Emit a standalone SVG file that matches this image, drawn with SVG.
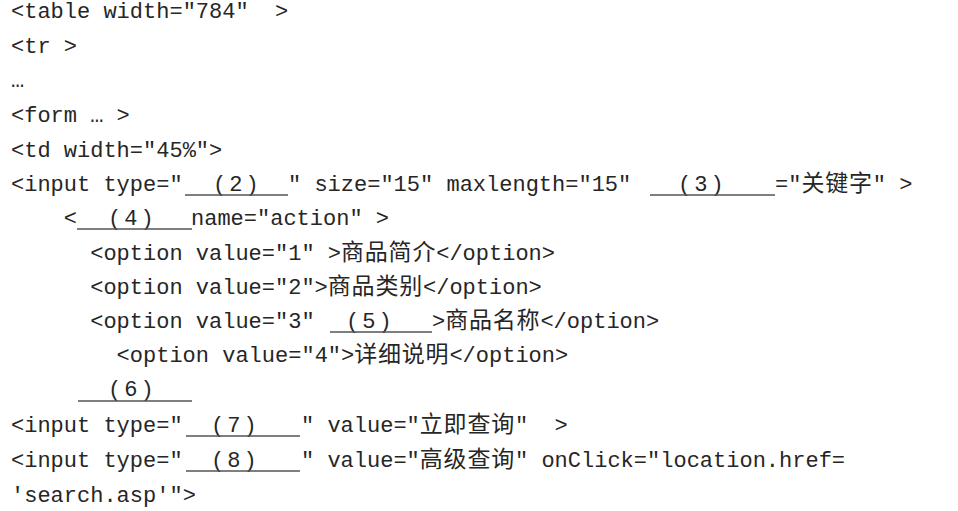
<svg xmlns="http://www.w3.org/2000/svg" width="958" height="511" viewBox="0 0 958 511">
<style>
text{font-family:"Liberation Mono","Courier New","Noto Sans CJK SC",monospace;font-size:22px;fill:#262626;white-space:pre}
.c{font-family:"Noto Sans CJK SC","Noto Sans CJK JP",sans-serif;font-size:23px;letter-spacing:0.8px}
.n{letter-spacing:3px}
.u{stroke:#555;stroke-width:1.4;fill:none}
</style>
<rect width="958" height="511" fill="#ffffff"/>
<g id="code" xml:space="preserve">
<text x="11" y="18">&lt;table width="784"  &gt;</text>
<text x="11" y="53">&lt;tr &gt;</text>
<text x="11" y="87">…</text>
<text x="11" y="122">&lt;form … &gt;</text>
<text x="11" y="157">&lt;td width="45%"&gt;</text>
<text y="191"><tspan x="11">&lt;input type="</tspan><tspan x="213" class="n">(2)</tspan><tspan x="288">" size="15" maxlength="15" </tspan><tspan x="678" class="n">(3)</tspan><tspan x="775">="</tspan><tspan x="801.4" class="c">关键字</tspan><tspan x="872.8">" &gt;</tspan></text>
<text y="225"><tspan x="63.8">&lt;</tspan><tspan x="108" class="n">(4)</tspan><tspan x="191">name="action" &gt;</tspan></text>
<text y="260"><tspan x="90.2">&lt;option value="1" &gt;</tspan><tspan x="341" class="c">商品简介</tspan><tspan x="436.2">&lt;/option&gt;</tspan></text>
<text y="294"><tspan x="90.2">&lt;option value="2"&gt;</tspan><tspan x="327.8" class="c">商品类别</tspan><tspan x="423">&lt;/option&gt;</tspan></text>
<text y="328"><tspan x="90.2">&lt;option value="3" </tspan><tspan x="346" class="n">(5)</tspan><tspan x="432">&gt;</tspan><tspan x="445.2" class="c">商品名称</tspan><tspan x="540.4">&lt;/option&gt;</tspan></text>
<text y="362"><tspan x="116.6">&lt;option value="4"&gt;</tspan><tspan x="354.2" class="c">详细说明</tspan><tspan x="449.4">&lt;/option&gt;</tspan></text>
<text x="108" y="396" class="n">(6)</text>
<text y="432"><tspan x="11">&lt;input type="</tspan><tspan x="211" class="n">(7)</tspan><tspan x="301">" value="</tspan><tspan x="419.8" class="c">立即查询</tspan><tspan x="515">"  &gt;</tspan></text>
<text y="467"><tspan x="11">&lt;input type="</tspan><tspan x="211" class="n">(8)</tspan><tspan x="301">" value="</tspan><tspan x="419.8" class="c">高级查询</tspan><tspan x="515">" onClick="location.href=</tspan></text>
<text x="11" y="502">'search.asp'"&gt;</text>
</g>
<g id="blanks">
<line class="u" x1="185" y1="195" x2="288" y2="195"/>
<line class="u" x1="650" y1="195" x2="775" y2="195"/>
<line class="u" x1="77" y1="229" x2="192" y2="229"/>
<line class="u" x1="330" y1="332" x2="432" y2="332"/>
<line class="u" x1="78" y1="401" x2="192" y2="401"/>
<line class="u" x1="186" y1="436" x2="300" y2="436"/>
<line class="u" x1="186" y1="471" x2="300" y2="471"/>
</g>
</svg>
